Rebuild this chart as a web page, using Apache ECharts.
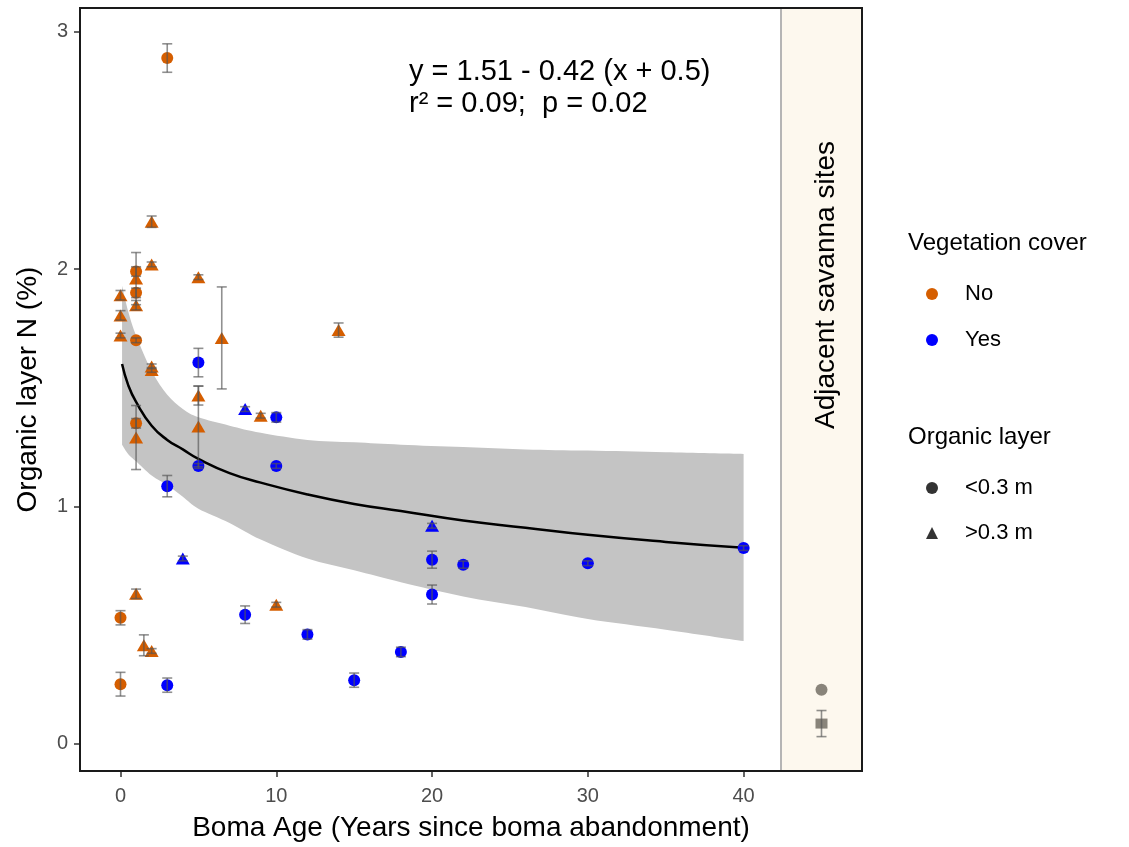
<!DOCTYPE html>
<html>
<head>
<meta charset="utf-8">
<script src="https://cdn.jsdelivr.net/npm/echarts@6/dist/echarts.min.js"></script>
<style>
  html, body { margin: 0; background: #fff; }
  #chart { width: 1129px; height: 847px; }
</style>
</head>
<body>
<div id="chart"></div>
<script>
// boma sites: age (years), organic layer N (%), standard error
const age = [3, 1, 1, 1, 1, 0, 0,
  2, 2, 0, 0, 0, 1, 1, 5, 6.5, 2, 2, 5, 5, 9, 14, 1, 1, 1.5, 2, 10,
  5, 10, 10, 5, 3, 8, 3, 12, 15, 18, 20, 20, 22, 30, 40,
  8, 4, 20]
const nPct = [2.89, 1.99, 1.90, 1.70, 1.35, 0.53, 0.25,
  2.20, 2.02, 1.89, 1.805, 1.72, 1.96, 1.848, 1.966, 1.71, 1.59, 1.575, 1.467, 1.337, 1.382, 1.743, 1.29, 0.631, 0.414, 0.39, 0.585,
  1.606, 1.375, 1.17, 1.17, 1.085, 0.543, 0.246, 0.46, 0.267, 0.386, 0.775, 0.628, 0.754, 0.76, 0.824,
  1.41, 0.78, 0.918]
const se = [0.06, 0.02, 0.02, 0.01, 0.02, 0.03, 0.05,
  0.024, 0.01, 0.02, 0.02, 0.01, 0.11, 0.02, 0.01, 0.215, 0.01, 0.01, 0.04, 0.17, 0.01, 0.03, 0.135, 0.02, 0.044, 0.01, 0.01,
  0.06, 0.02, 0.01, 0.01, 0.045, 0.037, 0.03, 0.02, 0.03, 0.02, 0.036, 0.04, 0.015, 0.01, 0.01,
  0.01, 0.01, 0.01]
const cover = [].concat(Array(27).fill('No'), Array(18).fill('Yes'))
const layer = [].concat(Array(7).fill('<0.3 m'), Array(20).fill('>0.3 m'), Array(15).fill('<0.3 m'), Array(3).fill('>0.3 m'))

// adjacent savanna sites
const savAge = [45, 45]
const savN = [0.227, 0.084]
const savSE = [0, 0.055]
const savShape = ['circle', 'rect']

// fitted curve and confidence band
const fitAge = [0.1, 0.5, 1, 2, 3, 4, 5, 7, 9, 12, 15, 18, 22, 26, 30, 35, 40]
const fitN = [1.60, 1.51, 1.44, 1.34, 1.28, 1.24, 1.20, 1.14, 1.10, 1.05, 1.01, 0.98, 0.94, 0.91, 0.88, 0.85, 0.825]
const bandHigh = [1.93, 1.82, 1.72, 1.57, 1.47, 1.41, 1.375, 1.34, 1.31, 1.28, 1.27, 1.26, 1.25, 1.24, 1.235, 1.228, 1.221]
const bandLow = [1.26, 1.22, 1.19, 1.13, 1.09, 1.04, 0.99, 0.93, 0.86, 0.78, 0.73, 0.68, 0.62, 0.575, 0.525, 0.48, 0.432]

const xTicks = [0, 10, 20, 30, 40]
const yTicks = [0, 1, 2, 3]

const colors = { No: '#D55E00', Yes: '#0000FF' }
const shapes = { '<0.3 m': 'circle', '>0.3 m': 'triangle' }
const FONT = '"Liberation Sans", Arial, Helvetica, sans-serif'

function pick(c, l) {
  const out = []
  age.forEach((a, i) => {
    if (cover[i] === c && layer[i] === l) out.push([a, nPct[i]])
  })
  return out
}

// bezier segments through pixel points (catmull-rom), like smooth: true
function curveThrough(p) {
  let d = ''
  for (let i = 0; i < p.length - 1; i++) {
    const p0 = p[Math.max(i - 1, 0)], p1 = p[i], p2 = p[i + 1], p3 = p[Math.min(i + 2, p.length - 1)]
    const c1 = [p1[0] + (p2[0] - p0[0]) / 6, p1[1] + (p2[1] - p0[1]) / 6]
    const c2 = [p2[0] - (p3[0] - p1[0]) / 6, p2[1] - (p3[1] - p1[1]) / 6]
    d += ' C' + c1[0] + ' ' + c1[1] + ' ' + c2[0] + ' ' + c2[1] + ' ' + p2[0] + ' ' + p2[1]
  }
  return d
}

const errData = age.map((a, i) => [a, nPct[i] - se[i], nPct[i] + se[i]])
  .concat(savAge.map((a, i) => [a, savN[i] - savSE[i], savN[i] + savSE[i]]).filter(d => d[2] > d[1]))

const pointSeries = []
;['No', 'Yes'].forEach(c => {
  ;['<0.3 m', '>0.3 m'].forEach(l => {
    pointSeries.push({
      name: c,
      type: 'scatter',
      data: pick(c, l),
      symbol: shapes[l],
      symbolSize: l === '<0.3 m' ? 12 : [14, 12],
      itemStyle: { color: colors[c], opacity: 1 },
      z: 4
    })
  })
})

const chart = echarts.init(document.getElementById('chart'))
chart.setOption({
  animation: false,
  backgroundColor: '#fff',
  grid: {
    left: 80, right: 267, top: 8, bottom: 72,
    show: true, z: 10,
    borderColor: '#1a1a1a', borderWidth: 2,
    backgroundColor: 'transparent'
  },
  xAxis: {
    type: 'value',
    min: -2.6, max: 47.6,
    name: 'Boma Age (Years since boma abandonment)',
    nameLocation: 'middle',
    nameGap: 43,
    nameTextStyle: { fontFamily: FONT, fontSize: 28, color: '#000' },
    axisLine: { show: false, onZero: false },
    splitLine: { show: false },
    axisTick: { show: true, length: 6, customValues: xTicks, lineStyle: { color: '#333', width: 1.5 } },
    axisLabel: { customValues: xTicks, fontFamily: FONT, fontSize: 20, color: '#4d4d4d', margin: 15 }
  },
  yAxis: {
    type: 'value',
    min: -0.116, max: 3.101,
    name: 'Organic layer N (%)',
    nameLocation: 'middle',
    nameGap: 38,
    nameTextStyle: { fontFamily: FONT, fontSize: 28, color: '#000' },
    axisLine: { show: false, onZero: false },
    splitLine: { show: false },
    axisTick: { show: true, length: 6, customValues: yTicks, lineStyle: { color: '#333', width: 1.5 } },
    axisLabel: { customValues: yTicks, fontFamily: FONT, fontSize: 20, color: '#4d4d4d', margin: 12 }
  },
  legend: [
    {
      data: ['No', 'Yes'],
      orient: 'vertical', left: 921, top: 278,
      itemWidth: 12, itemHeight: 12, itemGap: 24,
      icon: 'circle', selectedMode: false,
      textStyle: { fontFamily: FONT, fontSize: 22, color: '#000', padding: [0, 0, 0, 22] }
    },
    {
      data: [{ name: '<0.3 m', icon: 'circle' }, { name: '>0.3 m', icon: 'triangle' }],
      orient: 'vertical', left: 921, top: 472,
      itemWidth: 12, itemHeight: 12, itemGap: 23,
      selectedMode: false,
      textStyle: { fontFamily: FONT, fontSize: 22, color: '#000', padding: [0, 0, 0, 22] }
    }
  ],
  graphic: [
    { type: 'text', x: 908, y: 243, style: { text: 'Vegetation cover', font: '24px ' + FONT, fill: '#000', verticalAlign: 'middle' } },
    { type: 'text', x: 908, y: 437, style: { text: 'Organic layer', font: '24px ' + FONT, fill: '#000', verticalAlign: 'middle' } },
    { type: 'text', x: 409, y: 72, z: 20, style: { text: 'y = 1.51 - 0.42 (x + 0.5)', font: '29px ' + FONT, fill: '#000', verticalAlign: 'middle' } },
    { type: 'text', x: 409, y: 104, z: 20, style: { text: 'r\u00b2 = 0.09;  p = 0.02', font: '29px ' + FONT, fill: '#000', verticalAlign: 'middle' } },
    { type: 'text', x: 826, y: 285, rotation: Math.PI / 2, z: 20, style: { text: 'Adjacent savanna sites', font: '28px ' + FONT, fill: '#000', align: 'center', verticalAlign: 'middle' } }
  ],
  series: [
    {
      // savanna panel background and divider
      type: 'line', data: [], z: 0,
      markArea: {
        silent: true,
        itemStyle: { color: '#fdf8ee' },
        data: [[{ xAxis: 42.4 }, { xAxis: 47.6 }]]
      },
      markLine: {
        silent: true, symbol: 'none', label: { show: false },
        lineStyle: { color: '#b5b5b5', width: 2, type: 'solid' },
        data: [{ xAxis: 42.4 }]
      }
    },
    {
      // confidence band: upper edge, then lower edge back
      type: 'custom', z: 1, silent: true,
      data: [[0, 0]],
      renderItem: function (params, api) {
        const up = fitAge.map((a, i) => api.coord([a, bandHigh[i]]))
        const low = fitAge.map((a, i) => api.coord([a, bandLow[i]])).reverse()
        const d = 'M' + up[0][0] + ' ' + up[0][1] + curveThrough(up) +
          ' L' + low[0][0] + ' ' + low[0][1] + curveThrough(low) + ' Z'
        return { type: 'path', shape: { pathData: d }, style: { fill: '#c4c4c4', stroke: null } }
      }
    },
    {
      type: 'line', smooth: true, symbol: 'none', z: 3,
      lineStyle: { color: '#000', width: 2.5 },
      data: fitAge.map((a, i) => [a, fitN[i]])
    },
    ...pointSeries,
    { name: '<0.3 m', type: 'scatter', data: [], symbol: 'circle', itemStyle: { color: '#000' } },
    { name: '>0.3 m', type: 'scatter', data: [], symbol: 'triangle', itemStyle: { color: '#000' } },
    {
      type: 'scatter', z: 4,
      data: savAge.map((a, i) => ({ value: [a, savN[i]], symbol: savShape[i], symbolSize: savShape[i] === 'rect' ? [12, 10] : 12 })),
      itemStyle: { color: '#6b665c' }
    },
    {
      type: 'custom', z: 5,
      data: errData,
      renderItem: function (params, api) {
        const top = api.coord([api.value(0), api.value(2)])
        const bot = api.coord([api.value(0), api.value(1)])
        const w = 5
        const style = { stroke: 'rgba(85,85,85,0.65)', lineWidth: 1.6, fill: null }
        return {
          type: 'group',
          children: [
            { type: 'line', shape: { x1: top[0], y1: top[1], x2: bot[0], y2: bot[1] }, style },
            { type: 'line', shape: { x1: top[0] - w, y1: top[1], x2: top[0] + w, y2: top[1] }, style },
            { type: 'line', shape: { x1: bot[0] - w, y1: bot[1], x2: bot[0] + w, y2: bot[1] }, style }
          ]
        }
      }
    }
  ]
})
</script>
</body>
</html>
